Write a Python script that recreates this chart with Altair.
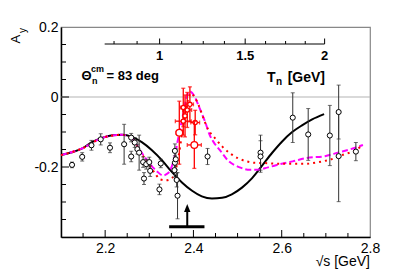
import altair as alt
import pandas as pd

# ---------------- data ----------------
# black open-circle measurements
data_x = [2.125, 2.148, 2.169, 2.190, 2.211, 2.243, 2.259, 2.259, 2.267, 2.273, 2.277,
          2.286, 2.288, 2.293, 2.300, 2.302, 2.323, 2.326, 2.358, 2.358, 2.360, 2.357,
          2.362, 2.364, 2.432, 2.552, 2.552, 2.625, 2.660, 2.709, 2.729, 2.729, 2.768]
data_y = [-0.194, -0.171, -0.138, -0.121, -0.145, -0.135, -0.116, -0.170, -0.130, -0.149, -0.159,
          -0.186, -0.233, -0.192, -0.186, -0.211, -0.264, -0.190, -0.154, -0.188, -0.178, -0.209,
          -0.237, -0.282, -0.170, -0.159, -0.170, -0.059, -0.107, -0.110, -0.043, -0.169, -0.156]
data_err = [0.008, 0.012, 0.014, 0.016, 0.014, 0.057, 0.012, 0.015, 0.014, 0.014, 0.050,
            0.015, 0.017, 0.014, 0.014, 0.016, 0.015, 0.012, 0.020, 0.020, 0.030, 0.020,
            0.020, 0.066, 0.023, 0.050, 0.045, 0.071, 0.074, 0.086, 0.077, 0.130, 0.026]

# red measurements (large circles)
red_big_x = [2.368, 2.402]
red_big_y = [-0.102, -0.137]
red_big_xerr = [0.0075, 0.016]
red_big_yerr = [0.09, 0.067]
# red measurements (small circles)
red_small_x = [2.377, 2.381, 2.386, 2.392, 2.377, 2.404]
red_small_y = [-0.030, -0.054, -0.037, -0.021, -0.069, -0.073]
red_small_xerr = [0.006, 0.004, 0.010, 0.008, 0.018, 0.010]
red_small_yerr = [0.055, 0.060, 0.050, 0.050, 0.040, 0.035]

# black solid curve
solid_x = [2.100, 2.125, 2.148, 2.170, 2.193, 2.216, 2.238, 2.261, 2.283, 2.306, 2.329, 2.351,
           2.374, 2.397, 2.419, 2.442, 2.465, 2.487, 2.510, 2.533, 2.555, 2.578, 2.601, 2.623,
           2.646, 2.669, 2.696]
solid_y = [-0.166, -0.158, -0.147, -0.129, -0.117, -0.109, -0.108, -0.114, -0.129, -0.152, -0.181, -0.214,
           -0.244, -0.268, -0.284, -0.290, -0.288, -0.278, -0.259, -0.232, -0.197, -0.160, -0.127, -0.101,
           -0.081, -0.064, -0.049]

# magenta dashed curve
dash_x = [2.100, 2.148, 2.193, 2.238, 2.263, 2.279, 2.302, 2.317, 2.331, 2.342, 2.351, 2.358,
          2.365, 2.372, 2.379, 2.385, 2.392, 2.401, 2.413, 2.426, 2.437, 2.449, 2.460, 2.478,
          2.505, 2.528, 2.546, 2.569, 2.596, 2.625, 2.657, 2.698, 2.727, 2.761, 2.784]
dash_y = [-0.166, -0.147, -0.117, -0.108, -0.121, -0.152, -0.192, -0.212, -0.224, -0.218, -0.198, -0.167,
          -0.121, -0.078, -0.035, 0.002, 0.016, 0.005, -0.029, -0.069, -0.109, -0.135, -0.152, -0.181,
          -0.201, -0.208, -0.208, -0.201, -0.192, -0.184, -0.174, -0.169, -0.159, -0.147, -0.137]

# red dotted curve
dot_x = [2.100, 2.148, 2.193, 2.238, 2.263, 2.279, 2.297, 2.313, 2.324, 2.338, 2.351, 2.360,
         2.367, 2.374, 2.381, 2.388, 2.394, 2.403, 2.412, 2.421, 2.433, 2.449, 2.465, 2.483,
         2.501, 2.521, 2.539, 2.567, 2.596, 2.625, 2.653, 2.680, 2.696, 2.712, 2.741, 2.759, 2.784]
dot_y = [-0.166, -0.147, -0.117, -0.108, -0.121, -0.155, -0.189, -0.218, -0.235, -0.238, -0.232, -0.207,
         -0.164, -0.107, -0.049, -0.007, 0.011, -0.001, -0.024, -0.055, -0.092, -0.118, -0.141, -0.161,
         -0.175, -0.184, -0.188, -0.189, -0.191, -0.191, -0.191, -0.187, -0.183, -0.178, -0.164, -0.157, -0.138]

# threshold arrow
arrow_x = [2.386]
arrow_bar_lo = [2.345]
arrow_bar_hi = [2.425]
arrow_base = [-0.371]
arrow_tip = [-0.306]

# axes
x_labels = [2.2, 2.4, 2.6, 2.8]
y_labels = [-0.2, 0.0, 0.2]
x_ticks_major = [2.2, 2.4, 2.6]
x_ticks_minor = [2.15, 2.25, 2.3, 2.35, 2.45, 2.5, 2.55, 2.65, 2.7, 2.75]
y_ticks_major = [-0.2, 0.0]
y_ticks_minor = [-0.35, -0.3, -0.25, -0.15, -0.1, -0.05, 0.05, 0.1, 0.15]
# top axis: neutron kinetic energy T_n [GeV]
tn_range = [0.7, 2.0]
tn_ticks_minor = [0.75, 0.875, 1.125, 1.25, 1.375, 1.625, 1.75, 1.875]
tn_ticks_major = [1.0, 1.5, 2.0]
tn_labels = ["1", "1.5", "2"]
MASS = 0.9383

# ---------------- chart ----------------
W, H = 309, 210
FONT = "Liberation Sans"
xs = alt.Scale(domain=[2.1, 2.8], nice=False, zero=False)
ys = alt.Scale(domain=[-0.4, 0.2], nice=False, zero=False)

XAX = alt.Axis(values=x_labels, title=None, ticks=False, grid=False, labelFlush=False,
               labelPadding=4, format=".1f", domain=True)
YAX = alt.Axis(values=y_labels, title=None, ticks=False, grid=False, labelFlush=False,
               labelPadding=3, domain=True,
               labelExpr="datum.value == 0 ? '0' : (datum.value < 0 ? '-' : '') + format(abs(datum.value), '.1f')")


def X(f):
    return alt.X(f, type="quantitative", scale=xs, axis=XAX)


def Y(f):
    return alt.Y(f, type="quantitative", scale=ys, axis=YAX)


zero = alt.Chart(pd.DataFrame({"y": [0.0]})).mark_rule(color="#b4b4b4", strokeWidth=1.2).encode(y=Y("y"))

solid = alt.Chart(pd.DataFrame({"x": solid_x, "y": solid_y})).mark_line(
    color="black", strokeWidth=2, interpolate="monotone").encode(x=X("x"), y=Y("y"))

dashed = alt.Chart(pd.DataFrame({"x": dash_x, "y": dash_y})).mark_line(
    color="#ff00ff", strokeWidth=2, strokeDash=[6, 3], interpolate="monotone").encode(x=X("x"), y=Y("y"))

dotted = alt.Chart(pd.DataFrame({"x": dot_x, "y": dot_y})).mark_line(
    color="#ff0000", strokeWidth=2, strokeDash=[2, 4], interpolate="monotone").encode(x=X("x"), y=Y("y"))

# black data
blk = alt.Chart(pd.DataFrame({"x": data_x, "y": data_y, "e": data_err})).transform_calculate(
    lo="datum.y - datum.e", hi="datum.y + datum.e")
blk_bar = blk.mark_rule(color="#333", strokeWidth=1).encode(x=X("x"), y=Y("lo"), y2="hi:Q")
blk_cap_lo = blk.mark_tick(color="#333", orient="horizontal", size=4, thickness=1).encode(x=X("x"), y=Y("lo"))
blk_cap_hi = blk.mark_tick(color="#333", orient="horizontal", size=4, thickness=1).encode(x=X("x"), y=Y("hi"))
blk_pt = blk.mark_point(shape="circle", filled=True, fill="white", stroke="black", strokeWidth=1,
                        size=26, opacity=1).encode(x=X("x"), y=Y("y"))


def red_layers(xv, yv, xe, ye, size):
    base = alt.Chart(pd.DataFrame({"x": xv, "y": yv, "xe": xe, "ye": ye})).transform_calculate(
        ylo="datum.y - datum.ye", yhi="datum.y + datum.ye",
        xlo="datum.x - datum.xe", xhi="datum.x + datum.xe")
    red = "#ff0000"
    return [
        base.mark_rule(color=red, strokeWidth=1.3).encode(x=X("x"), y=Y("ylo"), y2="yhi:Q"),
        base.mark_rule(color=red, strokeWidth=1.3).encode(x=X("xlo"), x2="xhi:Q", y=Y("y")),
        base.mark_tick(color=red, orient="horizontal", size=4, thickness=1.3).encode(x=X("x"), y=Y("ylo")),
        base.mark_tick(color=red, orient="horizontal", size=4, thickness=1.3).encode(x=X("x"), y=Y("yhi")),
        base.mark_tick(color=red, orient="vertical", size=4, thickness=1.3).encode(x=X("xlo"), y=Y("y")),
        base.mark_tick(color=red, orient="vertical", size=4, thickness=1.3).encode(x=X("xhi"), y=Y("y")),
        base.mark_point(shape="circle", filled=True, fill="white", stroke=red, strokeWidth=1.3,
                        size=size, opacity=1).encode(x=X("x"), y=Y("y")),
    ]


red_small = red_layers(red_small_x, red_small_y, red_small_xerr, red_small_yerr, 18)
red_big = red_layers(red_big_x, red_big_y, red_big_xerr, red_big_yerr, 45)

# arrow
arr = alt.Chart(pd.DataFrame({"x": arrow_x, "lo": arrow_bar_lo, "hi": arrow_bar_hi,
                              "b": arrow_base, "t": arrow_tip}))
arrow_bar = arr.mark_rule(color="black", strokeWidth=3).encode(x=X("lo"), x2="hi:Q", y=Y("b"))
arrow_shaft = arr.transform_calculate(t2="datum.t - 0.015").mark_rule(color="black", strokeWidth=2).encode(
    x=X("x"), y=Y("b"), y2="t2:Q")
arrow_head = arr.mark_point(shape="M0,0L-0.4,1L0.4,1Z", filled=True, color="black", size=256,
                            opacity=1).encode(x=X("x"), y=Y("t"))

# inward ticks
xt_maj = alt.Chart(pd.DataFrame({"x": x_ticks_major})).mark_rule(color="black", strokeWidth=1).encode(
    x=X("x"), y=alt.value(H), y2=alt.value(H - 7))
xt_min = alt.Chart(pd.DataFrame({"x": x_ticks_minor})).mark_rule(color="black", strokeWidth=1).encode(
    x=X("x"), y=alt.value(H), y2=alt.value(H - 4))
yt_maj = alt.Chart(pd.DataFrame({"y": y_ticks_major})).mark_rule(color="black", strokeWidth=1).encode(
    y=Y("y"), x=alt.value(0), x2=alt.value(8))
yt_min = alt.Chart(pd.DataFrame({"y": y_ticks_minor})).mark_rule(color="black", strokeWidth=1).encode(
    y=Y("y"), x=alt.value(0), x2=alt.value(5))

# top T_n axis (mapped to sqrt(s))
SQ = f"sqrt(4*{MASS}*{MASS} + 2*{MASS}*datum.T)"
tn_line = alt.Chart(pd.DataFrame({"T": [tn_range[0]], "T2": [tn_range[1]]})).transform_calculate(
    a=SQ, b=f"sqrt(4*{MASS}*{MASS} + 2*{MASS}*datum.T2)").mark_rule(color="black", strokeWidth=1).encode(
    x=X("a"), x2="b:Q", y=alt.value(17))
tn_min = alt.Chart(pd.DataFrame({"T": tn_ticks_minor})).transform_calculate(s=SQ).mark_rule(
    color="black", strokeWidth=1).encode(x=X("s"), y=alt.value(17), y2=alt.value(14))
tn_maj = alt.Chart(pd.DataFrame({"T": tn_ticks_major})).transform_calculate(s=SQ).mark_rule(
    color="black", strokeWidth=1).encode(x=X("s"), y=alt.value(17), y2=alt.value(11.5))
tn_lab = alt.Chart(pd.DataFrame({"T": tn_ticks_major, "lab": tn_labels})).transform_calculate(s=SQ).mark_text(
    font=FONT, fontSize=13, fontWeight="bold", align="center", baseline="alphabetic", color="black").encode(
    x=X("s"), y=alt.value(33), text="lab:N")


def txt(s, x, y, size, bold=False, align="left", angle=0):
    m = dict(font=FONT, fontSize=size, fontWeight="bold" if bold else "normal", align=align,
             baseline="alphabetic", color="black")
    if angle:
        m["angle"] = angle
    return alt.Chart(pd.DataFrame({"t": [s]})).mark_text(**m).encode(
        text="t:N", x=alt.value(x), y=alt.value(y))


texts = [
    txt("A", -41, 16.5, 13, angle=270),
    txt("y", -35.5, 6, 10, angle=270),
    txt("√s [GeV]", W, 239, 14, align="right"),
    txt("Θ", 20.5, 53, 13, bold=True),
    txt("cm", 30, 44.5, 9, bold=True),
    txt("n", 31, 57, 9, bold=True),
    txt("= 83 deg", 45.5, 53, 13, bold=True),
    txt("T", 206, 55, 14, bold=True),
    txt("n", 215, 58, 10, bold=True),
    txt("[GeV]", 264, 55, 14, bold=True, align="right"),
]

layers = [zero, solid, dashed, dotted, blk_bar, blk_cap_lo, blk_cap_hi, blk_pt] + red_small + red_big + [
    arrow_bar, arrow_shaft, arrow_head, xt_maj, xt_min, yt_maj, yt_min, tn_line, tn_min, tn_maj, tn_lab] + texts

chart = alt.layer(*layers).properties(
    width=W, height=H,
    padding={"left": 53, "top": 19, "right": 30, "bottom": 40},
    autosize=alt.AutoSizeParams(type="none"),
).configure_view(stroke="#888888", strokeWidth=1.2).configure_axis(
    domainColor="black", domainWidth=1.5, labelFont=FONT, labelFontSize=14, labelColor="black"
)

chart.save("out.html", embed_options={"renderer": "svg", "actions": False})
